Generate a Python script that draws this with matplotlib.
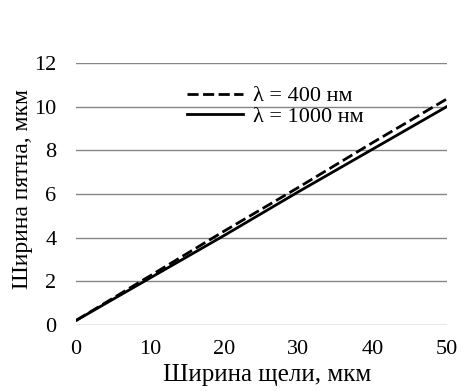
import matplotlib.pyplot as plt

plt.rcParams['font.family'] = ['Liberation Serif', 'DejaVu Serif']

# slit width, um
slit = [0, 10, 20, 30, 40, 50]
# spot width, um
spot_400 = [0.2, 2.25, 4.3, 6.3, 8.35, 10.35]
spot_1000 = [0.2, 2.15, 4.1, 6.1, 8.05, 10.0]

fig = plt.figure(figsize=(4.63, 3.91), dpi=100)
ax = fig.add_axes([0.164, 0.169, 0.801, 0.670])

ax.plot(slit, spot_400, color='black', lw=2, ls=(0, (4, 1.6)), label='λ = 400 нм')
ax.plot(slit, spot_1000, color='black', lw=2, label='λ = 1000 нм')

ax.set_xlim(0, 50)
ax.set_ylim(0, 12)
ax.set_xticks(range(0, 51, 10))
ax.set_yticks(range(0, 13, 2))
ax.tick_params(length=0, labelsize=16)
ax.tick_params(axis='x', pad=11)
ax.tick_params(axis='y', pad=14)
ax.yaxis.grid(True, color='#868686', lw=1)
ax.set_axisbelow(True)
for s in ax.spines.values():
    s.set_visible(False)

ax.set_xlabel('Ширина щели, мкм', fontsize=18)
ax.set_ylabel('Ширина пятна, мкм', fontsize=17)
ax.xaxis.set_label_coords(0.516, -0.15)
ax.yaxis.set_label_coords(-0.115, 0.52)

ax.legend(loc='upper left', bbox_to_anchor=(0.27, 0.955), frameon=False, fontsize=16,
          handlelength=2.5, handletextpad=0.45, labelspacing=0.0, borderpad=0)

fig.savefig('out.png', dpi=100)
